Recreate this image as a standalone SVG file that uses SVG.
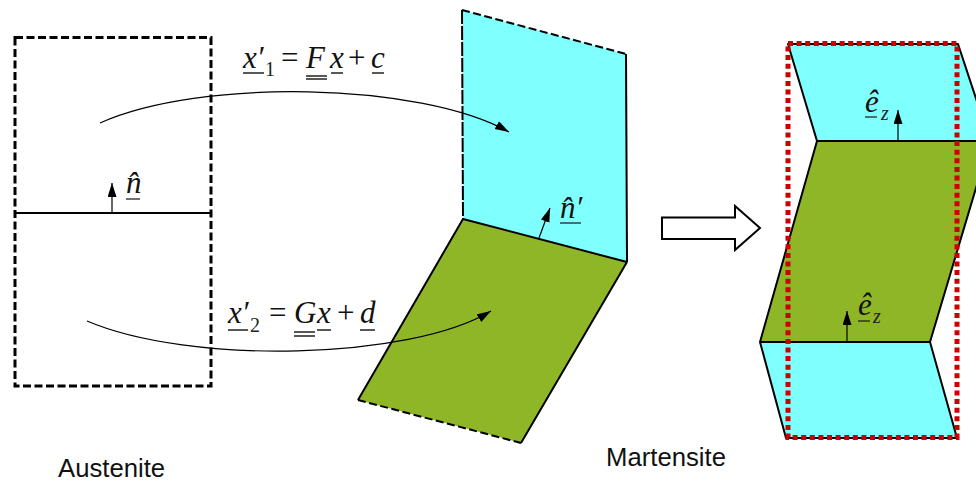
<svg xmlns="http://www.w3.org/2000/svg" width="976" height="481" viewBox="0 0 976 481">
<style>
.e{stroke:#000;stroke-width:2;stroke-linejoin:round}
.d{fill:none;stroke:#000;stroke-width:3;stroke-dasharray:8 3.500}
.c{fill:#80ffff}.o{fill:#8fb627}
.m{font-family:"Liberation Serif",serif;font-size:31px;font-style:italic;fill:#111}
.s{font-family:"Liberation Serif",serif;font-size:20px;font-style:italic;fill:#222}
.r{font-family:"Liberation Serif",serif;font-size:31px;fill:#111}
.l{font-family:"Liberation Sans",sans-serif;font-size:25.700px;fill:#111}
.u{stroke:#222;stroke-width:1.300;fill:none}
.a{stroke:#000;stroke-width:1.200;fill:none}
</style>
<defs>
<marker id="h" markerUnits="userSpaceOnUse" markerWidth="16" markerHeight="12" refX="14" refY="4.500" orient="auto"><path d="M0 0L14 4.500L0 9Z" fill="#000"/></marker>
</defs>
<g id="austenite">
<rect x="15" y="37.500" width="196" height="348.500" class="d"/>
<path d="M15 213H211" stroke="#000" stroke-width="2" fill="none"/>
<text class="l" x="58" y="477">Austenite</text>
</g>
<g id="martensite-middle">
<path d="M462 10L626 54L627 262L463 219Z" class="c"/>
<path d="M463 219L627 262L521 443L358 400Z" class="o"/>
<path d="M626 54L627 262M463 219L627 262M627 262L521 443M463 219L358 400" class="e" fill="none"/>
<path d="M462 10L626 54M358 400L521 443" class="d" style="stroke-width:2"/>
<path d="M462 10L463 219" class="d" style="stroke-width:2;stroke-dasharray:14 2"/>
</g>
<g id="martensite-right">
<path d="M788 44L958 44L990 141L817 141Z" class="c"/>
<path d="M817 141L990 141L930 342L760 342Z" class="o"/>
<path d="M760 342L930 342L957 438L786 438Z" class="c"/>
<path d="M817 141L788 44L958 44L990 141ZM817 141L760 342L786 438L957 438L930 342L760 342M930 342L990 141" class="e" fill="none"/>
<rect x="788" y="43.500" width="169" height="394" fill="none" stroke="#cc0000" stroke-width="5" stroke-dasharray="5 3.600"/>
<text class="l" x="606" y="466">Martensite</text>
</g>
<g id="block-arrow">
<path d="M662 217.500H735V206L760 228L735 250V239H662Z" fill="#fff" stroke="#000" stroke-width="2"/>
</g>
<g id="connectors">
<path d="M100 123C200 78 420 82 509 132" class="a" marker-end="url(#h)"/>
<path d="M87 321C190 365 410 360 491 311" class="a" marker-end="url(#h)"/>
<path d="M112 213V183" class="a" marker-end="url(#h)"/>
<path d="M539 238L550 208" class="a" marker-end="url(#h)"/>
<path d="M898 141V110" class="a" marker-end="url(#h)"/>
<path d="M847 342V311" class="a" marker-end="url(#h)"/>
</g>
<g id="labels">
<text class="m" x="243" y="68">x′</text><text class="s" x="265" y="76" font-style="normal" style="font-style:normal">1</text>
<text class="r" x="281" y="68">=</text><text class="m" x="306" y="68">F</text><text class="m" x="330" y="68">x</text><text class="r" x="348" y="68">+</text><text class="m" x="371" y="68">c</text>
<path d="M243 73H264M306 76H327M306 79H327M331 73H343M372 73H384" class="u"/>
<text class="m" x="228" y="323">x′</text><text class="s" x="250" y="332" style="font-style:normal">2</text>
<text class="r" x="269" y="323">=</text><text class="m" x="294" y="323">G</text><text class="m" x="317" y="323">x</text><text class="r" x="337" y="323">+</text><text class="m" x="360" y="323">d</text>
<path d="M228 330H248M294 332H315M294 336H315M317 330H331M360 330H375" class="u"/>
<text class="m" x="126" y="193">n̂</text><path d="M126 199H140" class="u"/>
<text class="m" x="560" y="218">n̂′</text><path d="M560 223H581" class="u"/>
<text class="m" x="865" y="112">ê</text><text class="s" x="881" y="120">z</text><path d="M865 117H877" class="u"/>
<text class="m" x="858" y="315">ê</text><text class="s" x="873" y="323">z</text><path d="M858 321H870" class="u"/>
</g>
</svg>
